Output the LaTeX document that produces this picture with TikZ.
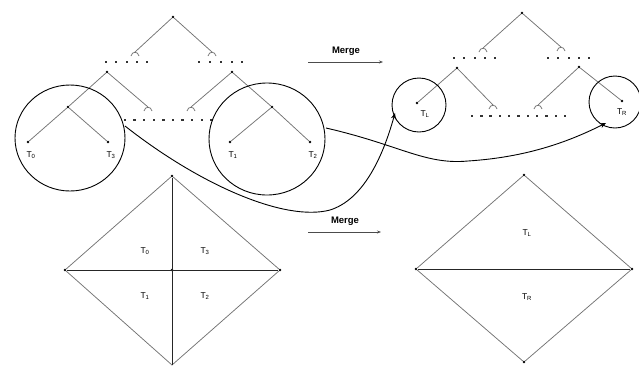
\documentclass[tikz,border=0pt]{standalone}
\usepackage{fontspec}
\setmainfont{Liberation Sans}
\usetikzlibrary{arrows.meta}
\begin{document}
\begin{tikzpicture}[x=1pt,y=-1pt,
  edge/.style={draw=black!55, line width=0.75pt},
  dark/.style={draw=black!85, line width=0.9pt},
  vtx/.style={circle, fill=black, inner sep=0pt, minimum size=2.8pt},
  lbl/.style={font=\fontsize{8.5}{10}\selectfont, inner sep=0pt},
  ring/.style={draw=black, line width=0.9pt},
  link/.style={draw=black, line width=0.9pt, -{Stealth[length=6pt,width=5pt]}},
  mergearrow/.style={draw=black!70, line width=0.8pt, -{Stealth[length=4pt,width=3pt]}},
  mergetext/.style={font=\bfseries\fontsize{9.5}{11}\selectfont, inner sep=0pt},
  dotmark/.style={fill=black!80, inner sep=0pt, minimum size=2.4pt},
  hatmark/.pic={\draw[black!55,line width=0.75pt] (-4,4) .. controls (-3,-1) and (3,-1) .. (4,4);}
]
\useasboundingbox (0,0) rectangle (639,365);

% ---------- left tree ----------
\node[vtx] (r) at (173,17) {};
\coordinate (ha) at (135,52);
\coordinate (hb) at (212,52);
\draw[edge] (r) -- (ha);
\draw[edge] (r) -- (hb);
\pic at (ha) {hatmark};
\pic at (hb) {hatmark};
\foreach \x in {106,116,127,137,147} \node[dotmark] at (\x,62) {};
\foreach \x in {199,210,221,232,242} \node[dotmark] at (\x,62) {};
\node[vtx] (m1) at (107,72) {};
\node[vtx] (m2) at (232,72) {};
\coordinate (hc) at (148,107);
\coordinate (hd) at (191,107);
\node[vtx] (n1) at (68,107) {};
\node[vtx] (n2) at (272,107) {};
\draw[edge] (m1) -- (n1);
\draw[edge] (m1) -- (hc);
\draw[edge] (m2) -- (hd);
\draw[edge] (m2) -- (n2);
\pic at (hc) {hatmark};
\pic at (hd) {hatmark};
\foreach \i in {0,...,9} \node[dotmark] at ({125+9.6*\i},120) {};
\node[vtx] (l0) at (28,142) {};
\node[vtx] (l3) at (108,142) {};
\node[vtx] (l1) at (230,142) {};
\node[vtx] (l2) at (310,142) {};
\draw[edge] (n1) -- (l0);
\draw[edge] (n1) -- (l3);
\draw[edge] (n2) -- (l1);
\draw[edge] (n2) -- (l2);
\node[lbl] (t0) at (31,155) {T\textsubscript{0}};
\node[lbl] (t3) at (111,155) {T\textsubscript{3}};
\node[lbl] (t1) at (233,155) {T\textsubscript{1}};
\node[lbl] (t2) at (313,155) {T\textsubscript{2}};
\draw[ring] (70,138) ellipse [x radius=55, y radius=53];
\draw[ring] (267,139) ellipse [x radius=58, y radius=56];
\coordinate (cs1) at (125,126);
\coordinate (cs2) at (326,128);

% ---------- right tree ----------
\node[vtx] (R) at (522,13) {};
\coordinate (Ha) at (483,48);
\coordinate (Hb) at (561,47);
\draw[edge] (R) -- (Ha);
\draw[edge] (R) -- (Hb);
\pic at (Ha) {hatmark};
\pic at (Hb) {hatmark};
\foreach \x in {454,464,475,485,495} \node[dotmark] at (\x,58) {};
\foreach \x in {548,558,569,579,589} \node[dotmark] at (\x,58) {};
\node[vtx] (M1) at (457,68) {};
\node[vtx] (M2) at (579,67) {};
\node[vtx] (LL) at (417,103) {};
\coordinate (Hc) at (493,105);
\coordinate (Hd) at (538,105);
\node[vtx] (LR) at (622,101) {};
\draw[edge] (M1) -- (LL);
\draw[edge] (M1) -- (Hc);
\draw[edge] (M2) -- (Hd);
\draw[edge] (M2) -- (LR);
\pic at (Hc) {hatmark};
\pic at (Hd) {hatmark};
\foreach \i in {0,...,10} \node[dotmark] at ({472+9.3*\i},116) {};
\node[lbl] (tL) at (425,114) {T\textsubscript{L}};
\node[lbl] (tR) at (622,112) {T\textsubscript{R}};
\draw[ring] (419,105) circle [radius=27];
\draw[ring] (615,102) circle [radius=26];
\coordinate (ce1) at (395,113);
\coordinate (ce2) at (606,123);

% ---------- connectors ----------
\draw[link] (cs1) .. controls (200,185) and (285,222) .. (330,210) .. controls (362,200) and (382,160) .. (ce1);
\draw[link] (cs2) .. controls (400,145) and (425,165) .. (468,161) .. controls (530,157) and (572,140) .. (ce2);

% ---------- merge arrows ----------
\node[mergetext] (mg1) at (346,51) {Merge};
\coordinate (a1s) at (308,62);
\coordinate (a1e) at (383,62);
\draw[mergearrow] (a1s) -- (a1e);
\node[mergetext] (mg2) at (345,221) {Merge};
\coordinate (a2s) at (308,232);
\coordinate (a2e) at (381,232);
\draw[mergearrow] (a2s) -- (a2e);

% ---------- left diamond ----------
\node[vtx] (dT) at (172,176) {};
\node[vtx] (dL) at (65,270) {};
\node[vtx] (dR) at (280,270) {};
\node[vtx] (dC) at (172,270) {};
\coordinate (dB) at (172,365);
\draw[edge] (dT) -- (dL) -- (dB) -- (dR) -- (dT);
\draw[dark] (dT) -- (dB);
\draw[dark] (dL) -- (dR);
\node[lbl] (q0) at (145,251) {T\textsubscript{0}};
\node[lbl] (q3) at (205,251) {T\textsubscript{3}};
\node[lbl] (q1) at (145,296) {T\textsubscript{1}};
\node[lbl] (q2) at (205,296) {T\textsubscript{2}};

% ---------- right diamond ----------
\node[vtx] (eT) at (524,175) {};
\node[vtx] (eL) at (416,269) {};
\node[vtx] (eR) at (632,269) {};
\node[vtx] (eB) at (524,362) {};
\draw[edge] (eT) -- (eL) -- (eB) -- (eR) -- (eT);
\draw[dark] (eL) -- (eR);
\node[lbl] (pL) at (527,233) {T\textsubscript{L}};
\node[lbl] (pR) at (527,297) {T\textsubscript{R}};
\end{tikzpicture}
\end{document}
